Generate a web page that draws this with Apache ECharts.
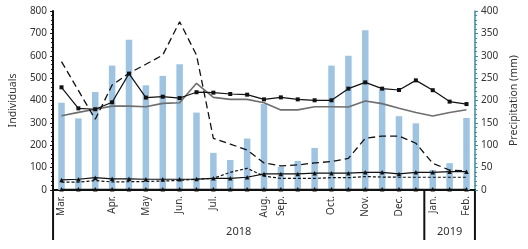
<!DOCTYPE html>
<html>
<head>
<meta charset="utf-8">
<script src="https://cdn.jsdelivr.net/npm/echarts@6/dist/echarts.min.js"></script>
<style>
  html, body { margin: 0; padding: 0; background: #fff; }
  #chart { width: 528px; height: 249px; }
</style>
</head>
<body>
<div id="chart"></div>
<script>
// sampling dates (25 samples, Mar 2018 - Feb 2019), only some carry a month label
const samples = ['s1','s2','s3','s4','s5','s6','s7','s8','s9','s10','s11','s12','s13',
  's14','s15','s16','s17','s18','s19','s20','s21','s22','s23','s24','s25']
const monthLabels = ['Mar.','','','Apr.','','May','','Jun.','','Jul.','','','Aug.',
  'Sep.','','','Oct.','','Nov.','','Dec.','','Jan.','','Feb.']
const years = ['2018', '2019']
const yearStart = [0, 22, 25]

// precipitation (mm), right axis
const precipitation = [195, 160, 219, 278, 336, 234, 255, 281, 173, 83, 67, 115, 192,
  52, 65, 94, 278, 300, 357, 225, 165, 149, 45, 60, 161]

// individuals, left axis
const squareLine = [459, 365, 361, 392, 520, 413, 417, 411, 437, 435, 429, 426, 405,
  414, 405, 401, 401, 453, 481, 453, 447, 490, 446, 395, 384]
const grayLine = [332, 347, 361, 375, 375, 372, 387, 390, 477, 414, 405, 405, 390,
  358, 358, 372, 372, 371, 398, 386, 365, 346, 331, 346, 359]
const longDash = [574, 445, 316, 469, 522, 562, 603, 752, 603, 231, 205, 179, 121,
  108, 112, 121, 127, 141, 231, 241, 241, 209, 119, 89, 86]
const triangleLine = [45, 48, 55, 50, 50, 48, 48, 48, 49, 52, 52, 57, 72,
  72, 72, 75, 75, 75, 79, 79, 72, 79, 79, 82, 82]
const shortDash = [35, 35, 42, 36, 37, 38, 40, 43, 48, 52, 79, 97, 62,
  52, 52, 52, 55, 55, 60, 58, 57, 57, 57, 57, 57]
const zeroLine = [3, 3, 3, 3, 3, 3, 3, 3, 3, 3, 3, 3, 3,
  3, 3, 3, 3, 3, 3, 3, 3, 3, 3, 3, 3]

const font = 'Noto Sans'
const chart = echarts.init(document.getElementById('chart'))

const lineSeries = (data, color, type, symbol, width) => ({
  type: 'line',
  data,
  yAxisIndex: 0,
  symbol,
  symbolSize: symbol === 'rect' ? 4 : 4.5,
  showSymbol: symbol !== 'none',
  lineStyle: { color, width, type },
  itemStyle: { color },
  z: 3
})

chart.setOption({
  animation: false,
  textStyle: { fontFamily: font },
  grid: { left: 47, right: 45, top: 11, bottom: 59 },
  xAxis: {
    type: 'category',
    data: samples,
    axisLine: { lineStyle: { color: '#111', width: 2 } },
    axisTick: { show: false },
    axisLabel: {
      interval: 0,
      rotate: 90,
      fontSize: 10,
      color: '#333',
      margin: 6,
      formatter: (v, i) => monthLabels[i]
    }
  },
  yAxis: [
    {
      type: 'value',
      min: 0,
      max: 800,
      interval: 100,
      name: 'Individuals',
      nameLocation: 'middle',
      nameGap: 34,
      nameTextStyle: { fontSize: 10.5, color: '#333' },
      axisLine: { show: true, lineStyle: { color: '#111', width: 2 } },
      axisTick: { show: true, length: 3, lineStyle: { color: '#111' } },
      minorTick: { show: true, splitNumber: 5, length: 2, lineStyle: { color: '#111' } },
      splitLine: { show: false },
      axisLabel: { fontSize: 10, color: '#333', margin: 6 }
    },
    {
      type: 'value',
      min: 0,
      max: 400,
      interval: 50,
      name: 'Precipitation (mm)',
      nameLocation: 'middle',
      nameGap: 34,
      nameRotate: 90,
      nameTextStyle: { fontSize: 10.5, color: '#333' },
      axisLine: { show: true, lineStyle: { color: '#3a8c9c', width: 1.5 } },
      axisTick: { show: true, length: 3, lineStyle: { color: '#3a8c9c' } },
      minorTick: { show: true, splitNumber: 5, length: 2, lineStyle: { color: '#3a8c9c' } },
      splitLine: { show: false },
      axisLabel: { fontSize: 10, color: '#333', margin: 6 }
    }
  ],
  series: [
    {
      type: 'bar',
      data: precipitation,
      yAxisIndex: 1,
      barWidth: 6.5,
      itemStyle: { color: '#9fc4e2' },
      z: 1
    },
    lineSeries(grayLine, '#6e6e6e', 'solid', 'none', 1.6),
    lineSeries(longDash, '#111', [7, 4], 'none', 1.3),
    lineSeries(squareLine, '#111', 'solid', 'rect', 1.2),
    lineSeries(shortDash, '#111', [3, 2], 'none', 1.2),
    lineSeries(triangleLine, '#111', 'solid', 'triangle', 1.2),
    lineSeries(zeroLine, '#111', 'solid', 'triangle', 1.2)
  ]
})

// year brackets under the month labels, placed from the category scale
const px = i => chart.convertToPixel({ xAxisIndex: 0 }, i)
const step = px(1) - px(0)
const edge = i => px(0) + (i - 0.5) * step
const y0 = chart.convertToPixel({ yAxisIndex: 0 }, 0)
const y1 = y0 + 50
const graphic = []
yearStart.forEach(i => {
  graphic.push({
    type: 'line',
    shape: { x1: edge(i), y1: y0, x2: edge(i), y2: y1 },
    style: { stroke: '#111', lineWidth: 2 }
  })
})
years.forEach((y, k) => {
  graphic.push({
    type: 'text',
    x: (edge(yearStart[k]) + edge(yearStart[k + 1])) / 2,
    y: y0 + 42,
    style: {
      text: y, fontSize: 11, fontFamily: font, fill: '#333',
      align: 'center', verticalAlign: 'middle'
    }
  })
})
chart.setOption({ graphic })
</script>
</body>
</html>
